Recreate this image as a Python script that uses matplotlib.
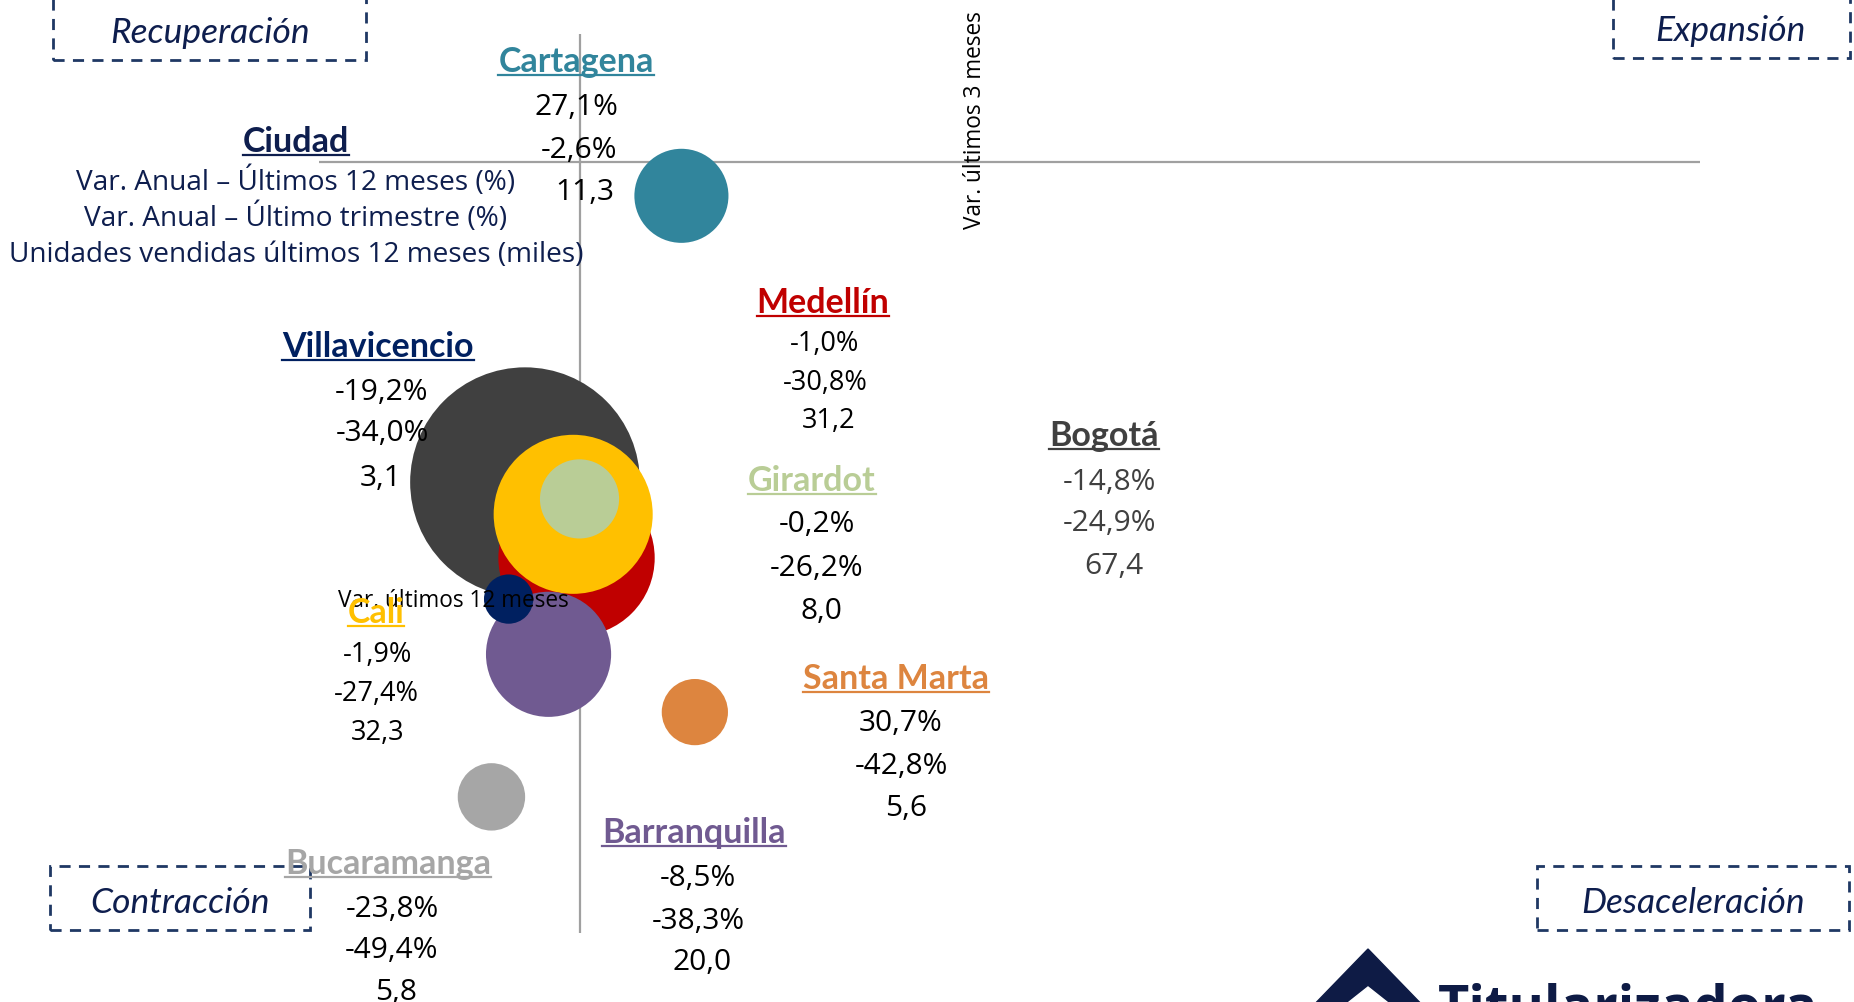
import matplotlib
matplotlib.use('Agg')
import matplotlib.pyplot as plt
from matplotlib.patches import Rectangle, Polygon
from matplotlib.lines import Line2D

W, H, DPI = 1854, 1003, 100

# ---------------- data ----------------
cities = ['Bogotá', 'Medellín', 'Cali', 'Girardot', 'Barranquilla',
          'Villavicencio', 'Santa Marta', 'Bucaramanga', 'Cartagena']
var_12m = [-14.8, -1.0, -1.9, -0.2, -8.5, -19.2, 30.7, -23.8, 27.1]
var_3m = [-24.9, -30.8, -27.4, -26.2, -38.3, -34.0, -42.8, -49.4, -2.6]
units = [67.4, 31.2, 32.3, 8.0, 20.0, 3.1, 5.6, 5.8, 11.3]
colors = ['#404040', '#C00000', '#FFC000', '#B9CD96', '#705A91',
          '#002060', '#DD853F', '#A6A6A6', '#31859C']
legend_lines = ['Var. Anual – Últimos 12 meses (%)',
                'Var. Anual – Último trimestre (%)',
                'Unidades vendidas últimos 12 meses (miles)']
quadrants = ['Recuperación', 'Expansión', 'Contracción', 'Desaceleración']

# ---------------- layout (pixels, y from top) ----------------
label_layout = {
    'Cartagena':     dict(name=(576, 72),  vals=[(576, 104), (579, 147), (585, 189)], fs=21.5),
    'Medellín':      dict(name=(823, 313), vals=[(825, 341), (825, 380), (829, 418)], fs=19.5),
    'Villavicencio': dict(name=(378, 357), vals=[(382, 389), (382, 430), (381, 475)], fs=21.5),
    'Bogotá':        dict(name=(1104, 446), vals=[(1109, 479), (1109, 520), (1114, 563)], fs=21.5),
    'Girardot':      dict(name=(812, 491), vals=[(817, 521), (817, 565), (821, 608)], fs=21.5),
    'Cali':          dict(name=(376, 623), vals=[(378, 652), (376, 691), (378, 730)], fs=19.5),
    'Santa Marta':   dict(name=(896, 689), vals=[(901, 720), (901, 763), (906, 805)], fs=21.5),
    'Barranquilla':  dict(name=(694, 843), vals=[(698, 875), (698, 918), (702, 959)], fs=21.5),
    'Bucaramanga':   dict(name=(388, 874), vals=[(392, 906), (392, 947), (396, 989)], fs=21.5),
}
value_colors = {'Bogotá': '#404040'}
NAVY = '#0E1E4E'
NAME_FS = 24.5

fig = plt.figure(figsize=(W / DPI, H / DPI), dpi=DPI)
fig.patch.set_facecolor('white')


def P(x, y):
    return (x / W, 1 - y / H)


# axes area: x -70..300, y -60..10
left, right, top, bottom = 319, 1700, 35, 934
ax = fig.add_axes([left / W, 1 - bottom / H, (right - left) / W, (bottom - top) / H])
ax.set_xlim(-70, 300)
ax.set_ylim(-60, 10)
ax.axis('off')
ax.axhline(0, color='#A0A0A0', lw=1.6, zorder=1)
ax.axvline(0, color='#A0A0A0', lw=1.6, zorder=1)

sizes = [406 * u for u in units]
for i in range(len(cities)):
    ax.scatter(var_12m[i], var_3m[i], s=sizes[i], color=colors[i],
               edgecolors='none', zorder=2 + i)

# axis titles
fig.text(*P(453, 601), 'Var. últimos 12 meses', ha='center', va='center',
         fontsize=16.3, family='Open Sans', color='black', zorder=20)
fig.text(*P(975, 120), 'Var. últimos 3 meses', ha='center', va='center', rotation=90,
         fontsize=16.3, family='Open Sans', color='black', zorder=20)

fig.canvas.draw()
renderer = fig.canvas.get_renderer()


def underlined(x, yb, s, color, fs):
    t = fig.text(*P(x, yb), s, ha='center', va='baseline', fontsize=fs,
                 family='Lato', weight='bold', color=color, zorder=30)
    bb = t.get_window_extent(renderer=renderer)
    yline = 1 - (yb + 4) / H
    fig.add_artist(Line2D([bb.x0 / W, bb.x1 / W], [yline, yline], color=color,
                          lw=1.6, zorder=30))
    return t


def fmt_pct(v):
    return f'{v:.1f}'.replace('.', ',') + '%'


def fmt_num(v):
    return f'{v:.1f}'.replace('.', ',')


for i, c in enumerate(cities):
    lay = label_layout[c]
    underlined(lay['name'][0], lay['name'][1], c, colors[i], NAME_FS)
    vals = [fmt_pct(var_12m[i]), fmt_pct(var_3m[i]), fmt_num(units[i])]
    vc = value_colors.get(c, 'black')
    for (x, y), s in zip(lay['vals'], vals):
        fig.text(*P(x, y), s, ha='center', va='center_baseline', fontsize=lay['fs'],
                 family='Open Sans', color=vc, zorder=30)

# legend block "Ciudad"
underlined(296, 152, 'Ciudad', NAVY, NAME_FS)
for (y, s) in zip([178, 214, 251], legend_lines):
    fig.text(*P(296, y), s, ha='center', va='center_baseline', fontsize=20.2,
             family='Open Sans', color=NAVY, zorder=30)

# quadrant boxes
boxes = [(53, -5, 366, 61, 210, 30), (1613, -5, 1850, 59, 1730, 28),
         (50, 867, 310, 931, 180, 900), (1537, 867, 1849, 931, 1693, 900)]
for (x0, y0, x1, y1, tx, ty), q in zip(boxes, quadrants):
    fig.add_artist(Rectangle(P(x0, y1), (x1 - x0) / W, (y1 - y0) / H, fill=False,
                             edgecolor='#1F3864', lw=2, ls=(0, (4, 3)), zorder=25))
    fig.text(*P(tx, ty), q, ha='center', va='center_baseline', fontsize=25.5,
             family='Lato', style='italic', color=NAVY, zorder=30)

# logo (partially cut)
fig.add_artist(Polygon([P(1368, 950), P(1368 - 92, 1045), P(1368 + 92, 1045)],
                       closed=True, color='#0E1B45', zorder=30))
fig.add_artist(Polygon([P(1368, 988), P(1368 - 72, 1045), P(1368 + 72, 1045)],
                       closed=True, color='white', zorder=31))
fig.text(*P(1438, 983), 'Titularizadora', ha='left', va='top', fontsize=39,
         family='Open Sans', weight='bold', color='#0E1B45', zorder=30)

fig.savefig('out.png', dpi=DPI, facecolor='white')
